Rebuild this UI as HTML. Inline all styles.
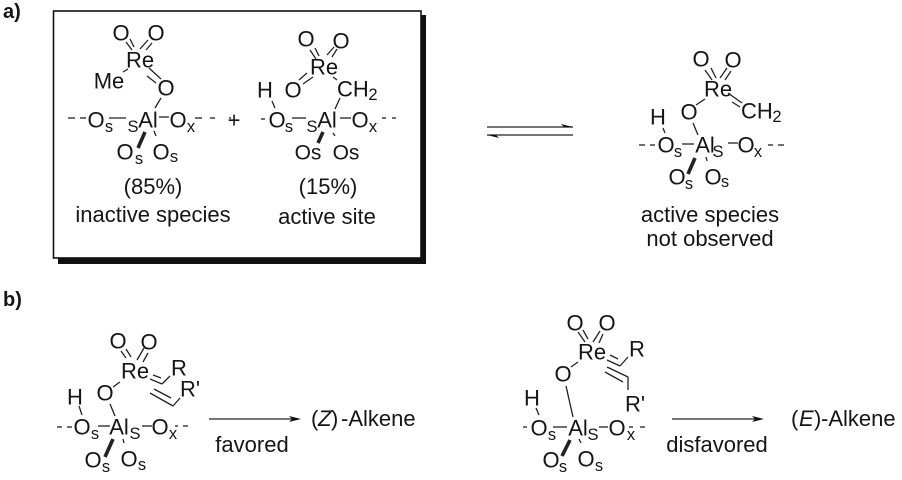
<!DOCTYPE html>
<html><head><meta charset="utf-8">
<style>
html,body{margin:0;padding:0;background:#fff}
svg{display:block}
text{font-family:"Liberation Sans",sans-serif;fill:#151515}
.a{font-size:22px;text-anchor:middle;transform:translateY(0.5px)}
.s{font-size:16.5px;text-anchor:middle}
.l{font-size:22px;text-anchor:middle}
.t{font-size:22px;text-anchor:start}
.b{font-size:20px;font-weight:bold}
.ln line{stroke:#222;stroke-width:1.3;fill:none}
</style></head>
<body>
<svg width="902" height="480" viewBox="0 0 902 480" xmlns="http://www.w3.org/2000/svg">
<rect x="58" y="15" width="368" height="249" fill="#111"/>
<rect x="53.5" y="11" width="367.5" height="247" fill="#fff" stroke="#111" stroke-width="1.6"/>
<text class="b" x="3" y="18">a)</text>
<text class="b" x="3" y="306">b)</text>

<!-- struct 1 -->
<g class="ln">
<line x1="68" y1="118" x2="75" y2="118"/><line x1="80" y1="118" x2="86" y2="118"/>
<line x1="126" y1="42" x2="132" y2="50"/><line x1="130" y1="39" x2="134" y2="47"/>
<line x1="140" y1="49" x2="148" y2="40"/><line x1="146" y1="50" x2="152" y2="43"/>
<line x1="123" y1="72" x2="128" y2="69"/>
<line x1="149" y1="68" x2="161" y2="79"/><line x1="147" y1="76" x2="156" y2="83"/>
<line x1="161" y1="98" x2="155" y2="108"/>
<line x1="109" y1="118" x2="126" y2="118"/>
<line x1="159" y1="117" x2="169" y2="117"/>
<line x1="195" y1="118" x2="202" y2="118"/><line x1="210" y1="118" x2="215" y2="118"/><line x1="229" y1="118" x2="231" y2="118"/>
<line x1="154" y1="131" x2="156" y2="136"/>
<line style="stroke-width:3.6" x1="145" y1="132" x2="138" y2="148"/>
</g>
<text class="a" x="121" y="40">O</text><text class="a" x="156" y="40">O</text>
<text class="a" x="140" y="67">Re</text><text class="a" x="109" y="88">Me</text>
<text class="a" x="166" y="95">O</text>
<text class="a" x="96" y="127">O</text><text class="s" x="109" y="132">s</text>
<text class="s" x="133" y="132">S</text><text class="a" x="148" y="127">Al</text>
<text class="a" x="178" y="127">O</text><text class="s" x="191" y="132">x</text>
<text class="a" x="125" y="159">O</text><text class="s" x="139" y="164">s</text>
<text class="a" x="161" y="159">O</text><text class="s" x="174" y="162">s</text>
<text class="l" x="153" y="194">(85%)</text>
<text class="l" x="153" y="222">inactive species</text>

<!-- plus -->
<text class="a" x="234" y="127">+</text>

<!-- struct 2 -->
<g class="ln">
<line x1="272" y1="101" x2="275" y2="108"/>
<line x1="310" y1="50" x2="316" y2="59"/><line x1="315" y1="48" x2="319" y2="56"/>
<line x1="327" y1="55" x2="334" y2="47"/><line x1="332" y1="57" x2="337" y2="49"/>
<line x1="299" y1="80" x2="307" y2="73"/><line x1="303" y1="84" x2="313" y2="77"/>
<line x1="333" y1="77" x2="337" y2="80"/>
<line x1="340" y1="98" x2="335" y2="109"/>
<line x1="292" y1="118" x2="306" y2="118"/>
<line x1="340" y1="118" x2="351" y2="118"/>
<line x1="261" y1="119" x2="265" y2="119"/>
<line x1="382" y1="118" x2="386" y2="118"/><line x1="392" y1="118" x2="396" y2="118"/>
<line x1="333" y1="133" x2="335" y2="136"/>
<line style="stroke-width:3.6" x1="323" y1="132" x2="318" y2="143"/>
</g>
<text class="a" x="306" y="46">O</text><text class="a" x="341" y="48">O</text>
<text class="a" x="324" y="74">Re</text>
<text class="a" x="265" y="97">H</text><text class="a" x="293" y="97">O</text>
<text class="a" x="337" y="96" style="text-anchor:start">CH</text><text class="s" x="373" y="100">2</text>
<text class="a" x="277" y="127">O</text><text class="s" x="289" y="132">s</text>
<text class="s" x="312" y="132">S</text><text class="a" x="327" y="127">Al</text>
<text class="a" x="360" y="127">O</text><text class="s" x="373" y="132">x</text>
<text class="a" x="308" y="159" style="font-size:21px">Os</text><text class="a" x="346" y="159" style="font-size:21px">Os</text>
<text class="l" x="328" y="194">(15%)</text>
<text class="l" x="327" y="224">active site</text>

<!-- equilibrium -->
<g class="ln">
<line x1="487" y1="127" x2="573" y2="127"/>
<line x1="487" y1="135" x2="573" y2="135"/>
</g>
<polygon points="573,127 561,124 564,127" fill="#111"/>
<polygon points="487,135 499,138 496,135" fill="#111"/>

<!-- struct 3 -->
<g class="ln">
<line x1="705" y1="70" x2="712" y2="80"/><line x1="711" y1="68" x2="716" y2="78"/>
<line x1="720" y1="78" x2="727" y2="68"/><line x1="725" y1="80" x2="731" y2="71"/>
<line x1="728" y1="93" x2="742" y2="103"/><line x1="732" y1="102" x2="740" y2="107"/>
<line x1="705" y1="99" x2="696" y2="105"/>
<line x1="693" y1="123" x2="698" y2="135"/>
<line x1="663" y1="128" x2="665" y2="133"/>
<line x1="682" y1="144" x2="694" y2="144"/>
<line x1="728" y1="143" x2="738" y2="143"/>
<line x1="639" y1="145" x2="645" y2="145"/><line x1="650" y1="145" x2="655" y2="145"/>
<line x1="768" y1="145" x2="773" y2="145"/><line x1="778" y1="145" x2="784" y2="145"/>
<line x1="706" y1="157" x2="707" y2="161"/>
<line style="stroke-width:3.6" x1="695" y1="158" x2="688" y2="174"/>
</g>
<text class="a" x="701" y="66">O</text><text class="a" x="733" y="67">O</text>
<text class="a" x="718" y="96">Re</text>
<text class="a" x="689" y="119">O</text>
<text class="a" x="741" y="118" style="text-anchor:start">CH</text><text class="s" x="777" y="122">2</text>
<text class="a" x="658" y="124">H</text>
<text class="a" x="666" y="152">O</text><text class="s" x="678" y="157">s</text>
<text class="a" x="705" y="152">Al</text><text class="s" x="718" y="157">S</text>
<text class="a" x="746" y="152">O</text><text class="s" x="758" y="157">x</text>
<text class="a" x="677" y="184">O</text><text class="s" x="689" y="189">s</text>
<text class="a" x="713" y="184">O</text><text class="s" x="725" y="187">s</text>
<text class="l" x="710" y="222">active species</text>
<text class="l" x="710" y="246">not observed</text>

<!-- struct b1 -->
<g class="ln">
<line x1="121" y1="351" x2="126" y2="358"/><line x1="126" y1="349" x2="131" y2="357"/>
<line x1="137" y1="360" x2="144" y2="348"/><line x1="143" y1="362" x2="148" y2="353"/>
<line x1="153" y1="375" x2="161" y2="378"/><line x1="150" y1="379" x2="162" y2="384"/>
<line x1="162" y1="384" x2="170" y2="376"/>
<line x1="150" y1="393" x2="173" y2="406"/><line x1="154" y1="389" x2="171" y2="398"/>
<line x1="173" y1="406" x2="180" y2="398"/>
<line x1="120" y1="382" x2="113" y2="387"/>
<line x1="110" y1="404" x2="115" y2="416"/>
<line x1="79" y1="406" x2="82" y2="415"/>
<line x1="98" y1="426" x2="110" y2="426"/>
<line x1="142" y1="426" x2="152" y2="426"/>
<line x1="57" y1="427" x2="62" y2="427"/><line x1="67" y1="427" x2="72" y2="427"/>
<line x1="175" y1="426" x2="178" y2="426"/><line x1="183" y1="426" x2="188" y2="426"/>
<line x1="123" y1="439" x2="124" y2="443"/>
<line style="stroke-width:3.6" x1="113" y1="439" x2="105" y2="457"/>
</g>
<text class="a" x="118" y="348">O</text><text class="a" x="149" y="349">O</text>
<text class="a" x="135" y="378">Re</text>
<text class="a" x="179" y="375">R</text><text class="a" x="190" y="396">R'</text>
<text class="a" x="105" y="400">O</text><text class="a" x="75" y="404">H</text>
<text class="a" x="82" y="434">O</text><text class="s" x="95" y="439">s</text>
<text class="a" x="119" y="434">Al</text><text class="s" x="135" y="439">S</text>
<text class="a" x="160" y="434">O</text><text class="s" x="173" y="439">x</text>
<text class="a" x="93" y="467">O</text><text class="s" x="106" y="472">s</text>
<text class="a" x="129" y="466">O</text><text class="s" x="142" y="470">s</text>

<!-- arrow 1 -->
<line x1="209" y1="419" x2="292" y2="419" stroke="#222" stroke-width="1.3"/>
<polygon points="301,419 289,416 292,419 289,422" fill="#111"/>
<text class="l" x="252" y="452">favored</text>
<text class="t" x="311" y="426">(</text>
<text class="t" x="318" y="426" font-style="italic">Z</text>
<text class="t" x="331" y="426">)</text>
<text class="t" x="341" y="426">-Alkene</text>

<!-- struct b2 -->
<g class="ln">
<line x1="578" y1="332" x2="585" y2="342"/><line x1="583" y1="330" x2="588" y2="339"/>
<line x1="593" y1="342" x2="600" y2="331"/><line x1="599" y1="343" x2="603" y2="334"/>
<line x1="610" y1="355" x2="618" y2="359"/><line x1="607" y1="360" x2="620" y2="366"/>
<line x1="620" y1="366" x2="628" y2="357"/>
<line x1="607" y1="367" x2="628" y2="377"/><line x1="605" y1="372" x2="623" y2="382"/>
<line x1="628" y1="377" x2="628" y2="390"/>
<line x1="578" y1="362" x2="571" y2="367"/>
<line x1="566" y1="386" x2="573" y2="417"/>
<line x1="536" y1="408" x2="539" y2="415"/>
<line x1="553" y1="427" x2="567" y2="427"/>
<line x1="599" y1="427" x2="608" y2="427"/>
<line x1="523" y1="427" x2="527" y2="427"/>
<line x1="629" y1="427" x2="633" y2="427"/><line x1="640" y1="427" x2="645" y2="427"/>
<line x1="579" y1="439" x2="581" y2="443"/>
<line style="stroke-width:3.6" x1="570" y1="440" x2="562" y2="456"/>
</g>
<text class="a" x="575" y="330">O</text><text class="a" x="607" y="330">O</text>
<text class="a" x="592" y="359">Re</text><text class="a" x="637" y="356">R</text>
<text class="a" x="563" y="381">O</text><text class="a" x="532" y="405">H</text>
<text class="a" x="635" y="411">R'</text>
<text class="a" x="539" y="435">O</text><text class="s" x="552" y="440">s</text>
<text class="a" x="578" y="435">Al</text><text class="s" x="593" y="440">S</text>
<text class="a" x="617" y="435">O</text><text class="s" x="631" y="440">x</text>
<text class="a" x="551" y="467">O</text><text class="s" x="563" y="472">s</text>
<text class="a" x="586" y="466">O</text><text class="s" x="599" y="471">s</text>

<!-- arrow 2 -->
<line x1="672" y1="419" x2="755" y2="419" stroke="#222" stroke-width="1.3"/>
<polygon points="764,419 752,416 755,419 752,422" fill="#111"/>
<text class="l" x="717" y="452">disfavored</text>
<text class="t" x="791" y="426">(</text>
<text class="t" x="799" y="426" font-style="italic">E</text>
<text class="t" x="814" y="426">)</text>
<text class="t" x="821" y="426">-Alkene</text>
</svg>
</body></html>
